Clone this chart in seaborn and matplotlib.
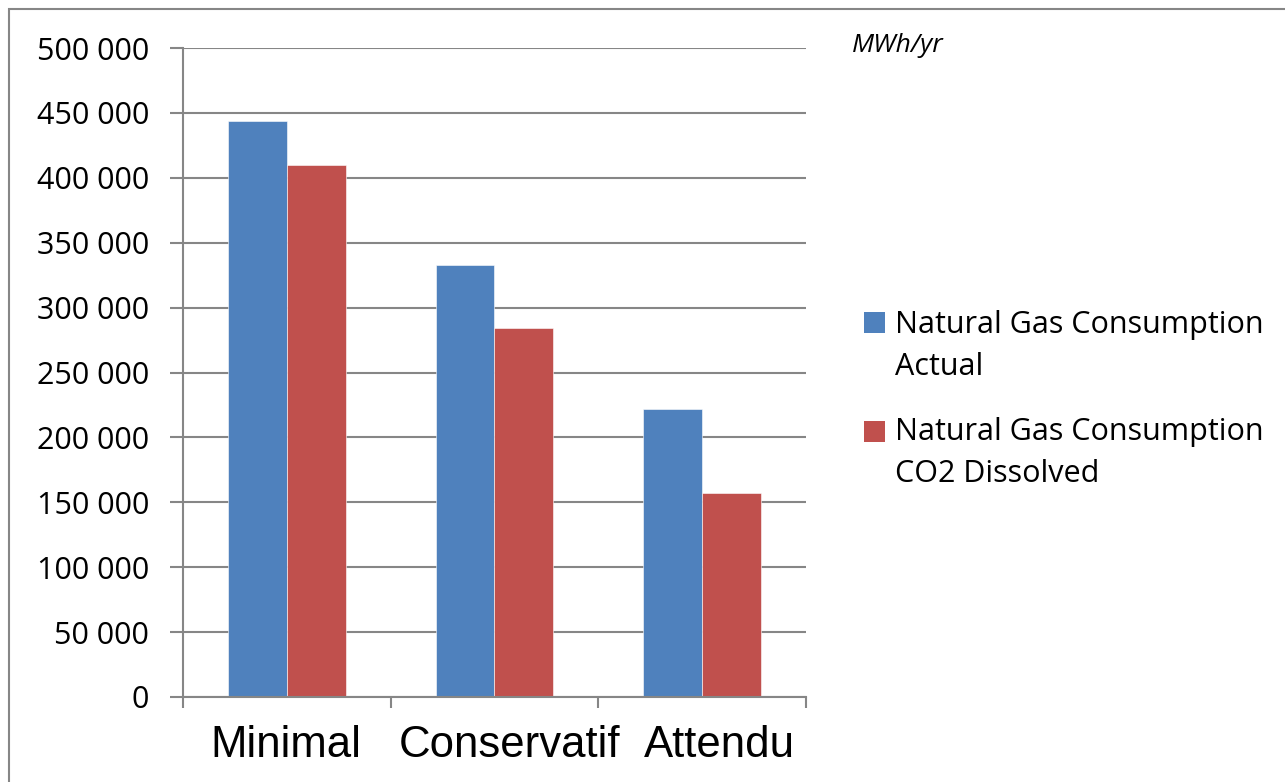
import matplotlib
matplotlib.use("Agg")
import matplotlib.pyplot as plt
from matplotlib.patches import Rectangle
from matplotlib.ticker import FuncFormatter, FixedLocator
from matplotlib.transforms import ScaledTranslation
import seaborn as sns
import pandas as pd

# Scenario labels and natural gas consumption (MWh/yr)
scenarios = ["Minimal", "Conservatif", "Attendu"]
actual = [443500, 333000, 222000]
co2_dissolved = [410000, 284000, 157500]
series_names = ["Natural Gas Consumption Actual", "Natural Gas Consumption CO2 Dissolved"]
legend_lines = [["Natural Gas Consumption", "Actual"],
                ["Natural Gas Consumption", "CO2 Dissolved"]]
y_ticks = [0, 50000, 100000, 150000, 200000, 250000, 300000, 350000, 400000, 450000, 500000]
unit_label = "MWh/yr"

colors = ["#4F81BD", "#C0504D"]
grid_gray = "#868686"

df = pd.DataFrame({
    "scenario": scenarios * 2,
    "series": [series_names[0]] * 3 + [series_names[1]] * 3,
    "value": actual + co2_dissolved,
})

sns.set_theme(style="white")
plt.rcParams["font.family"] = ["Open Sans", "DejaVu Sans"]
plt.rcParams["text.color"] = "black"

W, H = 1285, 782
fig = plt.figure(figsize=(W / 100, H / 100), dpi=100)
ax = fig.add_axes([183 / W, 1 - 697 / H, (806 - 183) / W, (697 - 48) / H])

sns.barplot(data=df, x="scenario", y="value", hue="series", order=scenarios,
            hue_order=series_names, palette=colors, width=0.568, gap=0,
            saturation=1, legend=False, ax=ax, zorder=3)
for p in ax.patches:
    p.set_edgecolor("#ffffff")
    p.set_linewidth(0.4)

ax.set_xlim(-0.5, 2.5)
ax.set_ylim(0, 500000)
ax.set_xlabel("")
ax.set_ylabel("")

# gridlines
ax.yaxis.set_major_locator(FixedLocator(y_ticks))
ax.yaxis.set_major_formatter(FuncFormatter(lambda v, _: f"{int(v):,}".replace(",", " ")))
ax.grid(axis="y", color=grid_gray, linewidth=1.5, zorder=0)
ax.grid(axis="x", visible=False)

for side in ["top", "right"]:
    ax.spines[side].set_visible(False)
for side in ["left", "bottom"]:
    ax.spines[side].set_color(grid_gray)
    ax.spines[side].set_linewidth(1.5)
    ax.spines[side].set_zorder(4)

ax.tick_params(axis="y", which="major", length=9.4, width=1.5, color=grid_gray,
               direction="out", left=True, pad=15, labelsize=22, labelcolor="black")
ax.set_xticks([0, 1, 2])
ax.set_xticklabels(scenarios, fontsize=31.5, family=["Liberation Sans", "DejaVu Sans"])
ax.set_xticks([-0.5, 0.5, 1.5, 2.5], minor=True)
ax.tick_params(axis="x", which="major", length=0, pad=20, labelcolor="black")
ax.tick_params(axis="x", which="minor", length=8, width=1.5, color=grid_gray,
               direction="out", bottom=True)

# category labels sit slightly right of centre for the later groups
for lbl, dx in zip(ax.get_xticklabels(), [-1, 15, 17]):
    lbl.set_transform(lbl.get_transform() + ScaledTranslation(dx / 100, 0, fig.dpi_scale_trans))

# unit annotation
fig.text(852 / W, 1 - 52.5 / H, unit_label, fontsize=19, style="italic",
         ha="left", va="baseline", color="black")

# legend
legend_y = [(312, 333, 375), (421, 440, 482)]
for (sq_top, base1, base2), lines, c in zip(legend_y, legend_lines, colors):
    fig.patches.append(Rectangle((864 / W, 1 - (sq_top + 21) / H), 21 / W, 21 / H,
                                 transform=fig.transFigure, facecolor=c,
                                 edgecolor="none"))
    fig.text(895 / W, 1 - base1 / H, lines[0], fontsize=22, ha="left", va="baseline")
    fig.text(895 / W, 1 - base2 / H, lines[1], fontsize=22, ha="left", va="baseline")

# outer chart border
fig.patches.append(Rectangle((9 / W, -0.05), 1.1, 1 - 9 / H + 0.05,
                             transform=fig.transFigure, facecolor="none",
                             edgecolor=grid_gray, linewidth=1.5))

fig.savefig("out.png", dpi=100)
